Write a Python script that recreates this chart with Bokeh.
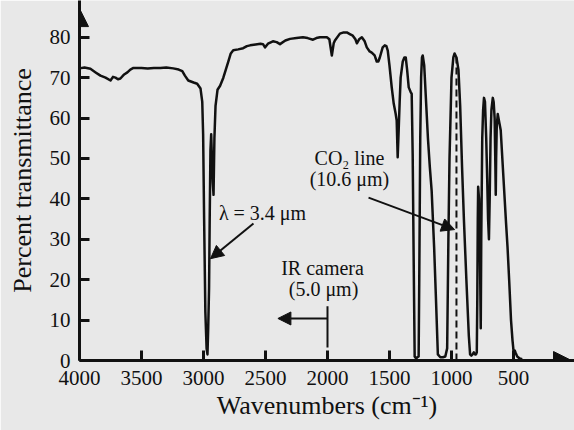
from bokeh.plotting import figure
from bokeh.models import Range1d, FixedTicker, Arrow, NormalHead
from bokeh.embed import file_html
from bokeh.resources import INLINE
from bokeh.core.properties import value

# ---------------- data ----------------
wavenumber = [
    4000, 3960, 3912, 3870, 3831, 3790, 3750, 3730, 3710, 3690, 3670, 3640, 3614, 3590, 3565,
    3500, 3450, 3400, 3348, 3300, 3244, 3200, 3171, 3150, 3123, 3080, 3051, 3024, 3010, 3003,
    2995, 2985, 2975, 2968, 2962, 2955, 2950, 2944, 2938, 2932, 2925, 2919, 2912, 2903, 2887,
    2866, 2840, 2800, 2780, 2760, 2720, 2680, 2650, 2624, 2580, 2540, 2520, 2504, 2480, 2440,
    2410, 2383, 2340, 2302, 2250, 2198, 2160, 2117, 2090, 2061, 2005, 1985, 1965, 1950, 1940,
    1900, 1870, 1844, 1820, 1796, 1775, 1763, 1745, 1723, 1700, 1683, 1660, 1643, 1620, 1603,
    1590, 1578, 1555, 1538, 1525, 1514, 1500, 1482, 1466, 1450, 1442, 1434, 1426, 1418, 1410,
    1393, 1380, 1369, 1358, 1345, 1330, 1321, 1313, 1305, 1297, 1285, 1275, 1265, 1260, 1252,
    1245, 1238, 1232, 1220, 1205, 1190, 1175, 1160, 1140, 1125, 1110, 1090, 1070, 1050, 1035,
    1025, 1016, 1000, 985, 975, 960, 944, 930, 915, 900, 880, 860, 850, 840, 830,
    820, 810, 802, 796, 792, 788, 785, 778, 770, 764, 760, 752, 745, 738, 730,
    720, 712, 705, 698, 692, 685, 678, 667, 660, 652, 646, 643, 640, 635, 627,
    615, 603, 590, 575, 560, 548, 535, 520, 508, 500, 490, 484, 470, 450, 430,
]
transmittance = [
    72.3, 72.5, 72.2, 71.3, 70.5, 70.0, 69.3, 70.2, 70.0, 69.6, 69.8, 70.8, 71.3, 72.0, 72.4,
    72.4, 72.3, 72.4, 72.4, 72.5, 72.3, 72.0, 71.6, 70.5, 69.3, 68.8, 68.5, 67.3, 64.0, 56.0,
    35.0, 12.0, 3.0, 1.5, 8.0, 18.0, 35.0, 52.0, 56.0, 50.0, 44.0, 41.0, 55.0, 63.0, 67.0,
    68.0, 70.0, 74.0, 76.0, 76.8, 77.0, 77.3, 77.8, 78.0, 78.2, 78.4, 78.3, 77.5, 78.4, 79.0,
    78.8, 78.3, 79.2, 79.6, 79.8, 80.0, 79.8, 79.4, 79.8, 80.0, 80.0, 79.5, 75.5, 78.5, 79.2,
    80.9, 81.2, 81.2, 80.8, 80.4, 79.5, 78.5, 79.5, 80.0, 79.0, 77.5, 76.5, 76.2, 75.5, 74.0,
    74.0, 75.0, 77.5, 78.0, 77.8, 76.7, 73.0, 67.6, 63.6, 61.0, 59.4, 50.3, 57.0, 64.0, 70.0,
    74.0, 75.0, 75.0, 72.0, 67.6, 66.5, 66.0, 51.0, 25.0, 1.0, 0.5, 0.8, 1.0, 20.0, 55.0,
    70.0, 75.0, 75.5, 73.0, 64.0, 55.0, 48.0, 42.0, 28.0, 15.0, 1.5, 0.8, 0.8, 1.0, 3.0,
    30.0, 50.0, 70.0, 75.0, 76.0, 75.0, 72.0, 63.0, 48.0, 35.0, 20.0, 6.0, 1.5, 1.2, 1.5,
    2.0, 1.5, 1.5, 2.0, 15.0, 35.0, 43.0, 40.0, 25.0, 8.0, 30.0, 55.0, 62.0, 65.0, 64.0,
    55.0, 45.0, 35.0, 30.0, 40.0, 55.0, 62.0, 65.0, 64.0, 60.0, 48.0, 41.0, 50.0, 58.0, 61.0,
    59.0, 57.0, 50.0, 42.0, 34.0, 28.0, 20.0, 10.0, 5.0, 2.5, 2.5, 2.0, 1.0, 0.5, 0.3,
]
x_ticks = [4000, 3500, 3000, 2500, 2000, 1500, 1000, 500]
y_ticks = [0, 10, 20, 30, 40, 50, 60, 70, 80]
co2_line_wavenumber = 960
ir_camera_wavenumber = 2000

SERIF = "Liberation Serif"
BG = "#e8e8e8"
INK = "#111111"

p = figure(width=574, height=430, output_backend="svg", toolbar_location=None,
           x_range=Range1d(4000, 8), y_range=Range1d(0, 89.1),
           min_border_left=79, min_border_right=0, min_border_top=0, min_border_bottom=70,
           background_fill_color=BG, border_fill_color=BG)
p.outline_line_color = None
p.grid.visible = False

for ax in (p.xaxis[0], p.yaxis[0]):
    ax.axis_line_width = 3
    ax.axis_line_color = INK
    ax.major_tick_in = 10
    ax.major_tick_out = 0
    ax.major_tick_line_width = 3
    ax.major_tick_line_color = INK
    ax.minor_tick_line_color = None
    ax.major_label_text_font = SERIF
    ax.major_label_text_font_size = "21px"
    ax.major_label_text_color = INK
    ax.axis_label_text_font = SERIF
    ax.axis_label_text_font_size = "26px"
    ax.axis_label_text_font_style = "normal"
    ax.axis_label_text_color = INK
p.xaxis[0].ticker = FixedTicker(ticks=x_ticks)
p.yaxis[0].ticker = FixedTicker(ticks=y_ticks)
p.xaxis[0].major_label_standoff = 10
p.yaxis[0].major_label_standoff = 9
p.xaxis[0].axis_label = "Wavenumbers (cm\u207b\u00b9)"
p.yaxis[0].axis_label = "Percent transmittance"
p.xaxis[0].axis_label_standoff = 3
p.yaxis[0].axis_label_standoff = 10

# spectrum
p.line(wavenumber, transmittance, line_color=INK, line_width=2.5, line_join="round")

# axis arrow heads
p.add_layout(Arrow(x_start=400, y_start=0, x_end=32, y_end=0, line_width=3, line_color=INK,
                   end=NormalHead(size=18, fill_color=INK, line_color=INK)))
p.add_layout(Arrow(x_start=4000, y_start=80, x_end=4000, y_end=87.1, line_width=3, line_color=INK,
                   end=NormalHead(size=18, fill_color=INK, line_color=INK)))

# CO2 dashed line
p.segment(x0=[co2_line_wavenumber], y0=[0], x1=[co2_line_wavenumber], y1=[75],
          line_color=INK, line_width=2, line_dash="7 4")

# IR camera marker
p.segment(x0=[ir_camera_wavenumber], y0=[3.2], x1=[ir_camera_wavenumber], y1=[13.4],
          line_color=INK, line_width=2)
p.add_layout(Arrow(x_start=ir_camera_wavenumber, y_start=10.4, x_end=2400, y_end=10.4,
                   line_width=2, line_color=INK,
                   end=NormalHead(size=13, fill_color=INK, line_color=INK)))

# lambda arrow
p.add_layout(Arrow(x_start=2597, y_start=33.9, x_end=2944, y_end=25.2, line_width=2, line_color=INK,
                   end=NormalHead(size=13, fill_color=INK, line_color=INK)))
# CO2 arrow
p.add_layout(Arrow(x_start=1669, y_start=40.3, x_end=975, y_end=32.4, line_width=2, line_color=INK,
                   end=NormalHead(size=13, fill_color=INK, line_color=INK)))

ann_x = [2524, 2040, 2032, 1823, 1823]
ann_y = [36.6, 23.0, 17.8, 50.2, 44.8]
ann_t = ["\u03bb = 3.4 \u03bcm", "IR camera", "(5.0 \u03bcm)", "CO\u2082 line", "(10.6 \u03bcm)"]
p.text(x=ann_x, y=ann_y, text=ann_t, text_font=value(SERIF), text_font_size="20px",
       text_align="center", text_baseline="middle", text_color=INK)

open("out.html", "w").write(file_html(p, INLINE))
